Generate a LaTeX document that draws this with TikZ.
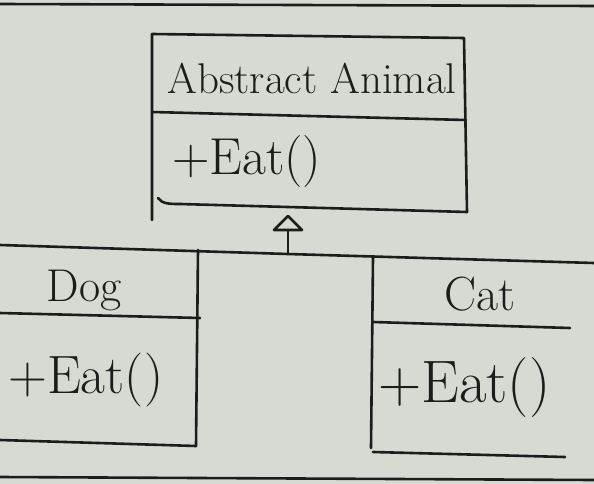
\documentclass[tikz,border=0pt]{standalone}
\usepackage{fontspec}
\definecolor{paper}{HTML}{D6DAD2}
\definecolor{ink}{HTML}{1C1C1C}
\tikzset{
  ln/.style={draw=ink, line width=2.6pt, line cap=round, line join=round},
  lbl/.style={inner sep=0pt, text=ink, font=\fontsize{#1}{#1}\selectfont},
}
\begin{document}
\begin{tikzpicture}[x=1pt,y=-1pt]
\useasboundingbox (0,0) rectangle (594,484);
\fill[paper] (0,0) rectangle (594,484);
% page borders
\draw[ln] (0,4) -- (594,6);
\draw[ln] (0,477) -- (594,480);
% abstract class box
\draw[ln] (152,220) -- (152,34) -- (464,38) -- (467,212);
\draw[ln] (152,112) -- (466,120);
\draw[ln] (158,198) .. controls (162,204) and (170,204) .. (180,204) -- (467,212);
\node[lbl=43pt] (abs) at (312,78) {Abstract Animal};
\node[lbl=52pt, anchor=west] (absop) at (172,162) {+Eat()};
% generalization triangle and connector
\coordinate (tip) at (288,216);
\coordinate (bl) at (274,230);
\coordinate (br) at (302,230);
\coordinate (bm) at (288,230);
\coordinate (bus) at (288,254);
\draw[ln] (tip) -- (bl) -- (br) -- cycle;
\draw[ln] (bm) -- (bus);
\draw[ln] (0,245) -- (bus) -- (594,263);
% Dog
\draw[ln] (198,250) -- (196,446);
\draw[ln] (0,313) -- (200,318);
\draw[ln] (0,440) -- (196,446);
\node[lbl=46pt] (dog) at (84,290) {Dog};
\node[lbl=54pt, anchor=west] (dogop) at (8,380) {+Eat()};
% Cat
\draw[ln] (373,258) -- (371,448);
\draw[ln] (373,322) -- (570,328);
\draw[ln] (373,452) -- (565,457);
\node[lbl=48pt] (cat) at (480,294) {Cat};
\node[lbl=60pt, anchor=west] (catop) at (378,388) {+Eat()};
\end{tikzpicture}
\end{document}
